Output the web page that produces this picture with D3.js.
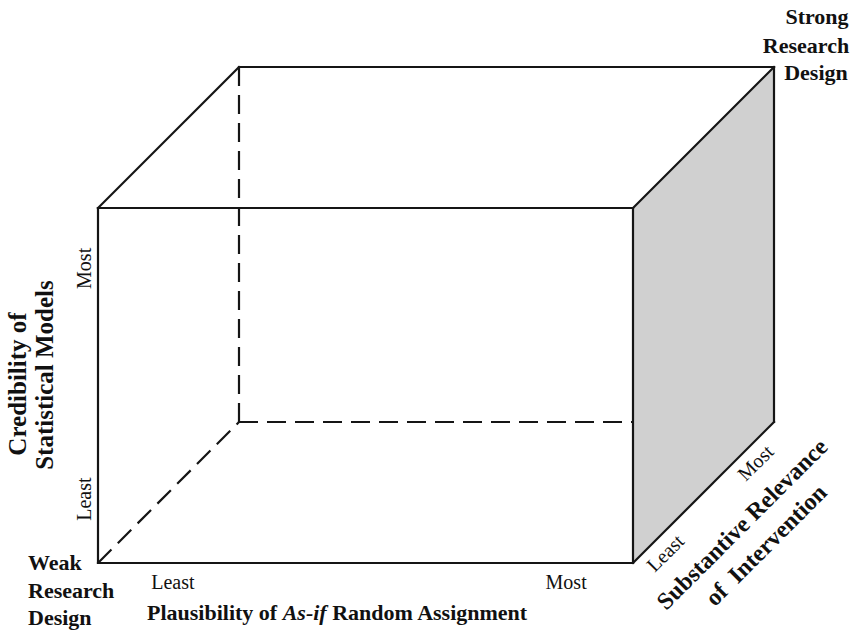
<!DOCTYPE html>
<html>
<head>
<meta charset="utf-8">
<script src="https://cdn.jsdelivr.net/npm/d3@7"></script>
<style>
  html, body { margin: 0; padding: 0; background: #fff; }
  svg { display: block; }
  text { font-family: "Liberation Serif", "Times New Roman", serif; fill: #111; }
</style>
</head>
<body>
<svg id="chart" width="857" height="630"></svg>
<script>
// ---- data ----
const xTicks = ["Least", "Most"];          // Plausibility of As-if Random Assignment
const xTickValues = [0.14, 0.875];
const yTicks = ["Least", "Most"];          // Credibility of Statistical Models
const yTickValues = [0.18, 0.83];
const zTicks = ["Least", "Most"];          // Substantive Relevance of Intervention
const zTickValues = [0.15, 0.79];
const xTitle = ["Plausibility of ", "As-if", " Random Assignment"];
const yTitle = ["Credibility of", "Statistical Models"];
const zTitle = ["Substantive Relevance", "of  Intervention"];
const weakLabel = ["Weak", "Research", "Design"];
const strongLabel = ["Strong", "Research", "Design"];
// unit-cube corners [x, y, z]
const solidEdges = [
  [[0,0,0],[1,0,0]], [[1,0,0],[1,1,0]], [[1,1,0],[0,1,0]], [[0,1,0],[0,0,0]],
  [[0,1,0],[0,1,1]], [[1,1,0],[1,1,1]], [[1,0,0],[1,0,1]],
  [[0,1,1],[1,1,1]], [[1,1,1],[1,0,1]]
];
const hiddenEdges = [
  [[0,1,1],[0,0,1]], [[0,0,1],[1,0,1]], [[0,0,0],[0,0,1]]
];
const sideFace = [[1,0,0],[1,1,0],[1,1,1],[1,0,1]];

// ---- scales ----
const svg = d3.select("#chart");
const x = d3.scaleLinear().domain([0,1]).range([98, 633]);
const y = d3.scaleLinear().domain([0,1]).range([563, 208]);
const zx = d3.scaleLinear().domain([0,1]).range([0, 141]);
const zy = d3.scaleLinear().domain([0,1]).range([0, -141]);
const P = p => [x(p[0]) + zx(p[2]), y(p[1]) + zy(p[2])];

const line = d3.line();
const stroke = "#151515";

svg.append("path")
  .attr("d", line(sideFace.map(P)) + "Z")
  .attr("fill", "#d0d0d0")
  .attr("stroke", "none");

const hiddenPts = hiddenEdges.map(e => e.map(P));
// the back-bottom edge is hidden behind the side face beyond the front-right edge
hiddenPts[1][1] = [x(1), hiddenPts[1][1][1]];

svg.append("g").selectAll("path").data(hiddenPts).join("path")
  .attr("d", d => line(d))
  .attr("fill", "none")
  .attr("stroke", stroke)
  .attr("stroke-width", 2.2)
  .attr("stroke-dasharray", "19,9");

svg.append("g").selectAll("path").data(solidEdges).join("path")
  .attr("d", d => line(d.map(P)))
  .attr("fill", "none")
  .attr("stroke", stroke)
  .attr("stroke-width", 2.2)
  .attr("stroke-linecap", "square");

// ---- tick labels ----
svg.append("g").selectAll("text").data(xTicks).join("text")
  .attr("x", (d,i) => x(xTickValues[i]))
  .attr("y", y(0) + 26)
  .attr("text-anchor", "middle")
  .attr("font-size", 20)
  .text(d => d);

svg.append("g").selectAll("text").data(yTicks).join("text")
  .attr("transform", (d,i) => `translate(${x(0) - 14},${y(yTickValues[i])}) rotate(-90)`)
  .attr("text-anchor", "middle")
  .attr("dominant-baseline", "central")
  .attr("font-size", 20)
  .text(d => d);

svg.append("g").selectAll("text").data(zTicks).join("text")
  .attr("transform", (d,i) => {
    const base = P([1,0,zTickValues[i]]);
    return `translate(${base[0] + 11},${base[1] + 11}) rotate(-45)`;
  })
  .attr("text-anchor", "middle")
  .attr("dominant-baseline", "central")
  .attr("font-size", 20)
  .attr("fill", "#333")
  .text(d => d);

// ---- axis titles ----
const xt = svg.append("text")
  .attr("x", 147).attr("y", 620)
  .attr("font-size", 22).attr("font-weight", "bold");
xt.selectAll("tspan").data(xTitle).join("tspan")
  .attr("font-style", (d,i) => i === 1 ? "italic" : "normal")
  .style("white-space", "pre")
  .text(d => d);

const yTitlePos = [[17, 384], [44, 375]];
svg.append("g").selectAll("text").data(yTitle).join("text")
  .attr("transform", (d,i) => `translate(${yTitlePos[i][0]},${yTitlePos[i][1]}) rotate(-90)`)
  .attr("text-anchor", "middle")
  .attr("dominant-baseline", "central")
  .attr("font-size", 25).attr("font-weight", "bold")
  .text(d => d);

const zTitlePos = [[742, 524], [766, 545]];
svg.append("g").selectAll("text").data(zTitle).join("text")
  .attr("transform", (d,i) => `translate(${zTitlePos[i][0]},${zTitlePos[i][1]}) rotate(-45)`)
  .attr("text-anchor", "middle")
  .attr("dominant-baseline", "central")
  .attr("font-size", 24).attr("font-weight", "bold")
  .style("white-space", "pre")
  .text(d => d);

// ---- corner labels ----
svg.append("g").selectAll("text").data(weakLabel).join("text")
  .attr("x", 28)
  .attr("y", (d,i) => 570 + i * 27.5)
  .attr("font-size", 22).attr("font-weight", "bold")
  .text(d => d);

const strongX = [817, 806, 816];
const strongY = [24, 53, 80];
svg.append("g").selectAll("text").data(strongLabel).join("text")
  .attr("x", (d,i) => strongX[i])
  .attr("y", (d,i) => strongY[i])
  .attr("text-anchor", "middle")
  .attr("font-size", 22).attr("font-weight", "bold")
  .text(d => d);
</script>
</body>
</html>
